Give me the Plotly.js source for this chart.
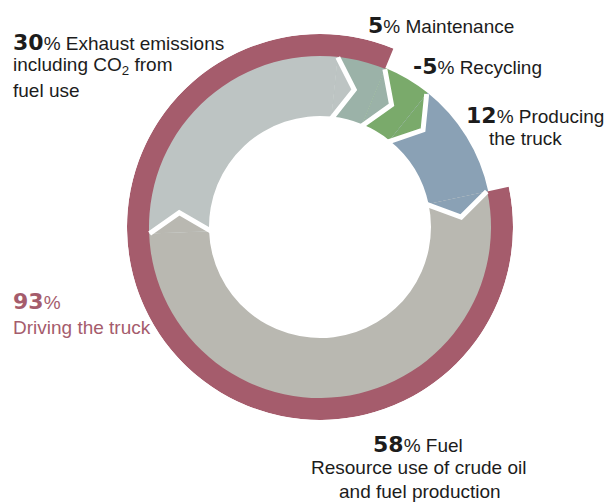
<!DOCTYPE html>
<html>
<head>
<meta charset="utf-8">
<script src="https://cdn.plot.ly/plotly-3.0.1.min.js"></script>
<style>
  html, body { margin: 0; padding: 0; background: #ffffff; }
  #chart { width: 607px; height: 504px; }
</style>
</head>
<body>
<div id="chart"></div>
<script>
// ---- Data ----
const categories = ['Maintenance', 'Recycling', 'Producing the truck', 'Fuel', 'Exhaust emissions'];
const shares = [5, -5, 12, 58, 30];             // % of life-cycle impact
const drivingShare = 93;                        // % Driving the truck

// ---- Styling ----
const sliceColors = ['#9bb2a8', '#7aaa6b', '#8aa1b5', '#b9b8b1', '#bdc4c3'];
const maroon = '#a55c6c';
const textColor = '#1c1c1c';
const W = 607, H = 504;
const cx = 320, cy = 227;
const innerR = 172, holeR = 111;          // radii in px (style)
const ringOuterR = 193, ringInnerR = 171;
const startAngle = 6;                      // degrees clockwise from 12 o'clock
const chevron = 8;                         // chevron tip offset, degrees

// ---- Angles derived from the data ----
const absVals = shares.map(Math.abs);
const total = absVals.reduce((a, b) => a + b, 0);
const spans = absVals.map(v => 360 * v / total);
const starts = [];
let acc = startAngle;
spans.forEach(sp => { starts.push(acc); acc += sp; });
const mids = starts.map((st, i) => st + spans[i] / 2);

const fuelIdx = categories.indexOf('Fuel');
const ringStart = starts[fuelIdx];
const ringSpan = 360 * drivingShare / total;

const traces = [];

// inner segments
traces.push({
  type: 'barpolar',
  theta: mids,
  width: spans,
  base: categories.map(() => holeR),
  r: categories.map(() => innerR - holeR),
  marker: { color: sliceColors, line: { width: 0 } },
  hoverinfo: 'skip',
  showlegend: false
});

// outer "Driving the truck" ring
traces.push({
  type: 'barpolar',
  theta: [ringStart + ringSpan / 2],
  width: [ringSpan],
  base: [ringInnerR],
  r: [ringOuterR - ringInnerR],
  marker: { color: maroon, line: { width: 0 } },
  hoverinfo: 'skip',
  showlegend: false
});

// chevron-shaped joins: the earlier slice pokes into the next one
const midR = (innerR + holeR) / 2;
const edgeR = Math.min(innerR, ringInnerR) - 0.5;
starts.forEach((th, i) => {
  const prev = (i - 1 + categories.length) % categories.length;
  traces.push({
    type: 'scatterpolar', mode: 'lines',
    r: [edgeR, midR, holeR, edgeR],
    theta: [th, th + chevron, th, th],
    fill: 'toself', fillcolor: sliceColors[prev],
    line: { width: 0, color: sliceColors[prev] },
    hoverinfo: 'skip', showlegend: false
  });
});
starts.forEach((th) => {
  traces.push({
    type: 'scatterpolar', mode: 'lines',
    r: [edgeR, midR, holeR - 2],
    theta: [th, th + chevron, th],
    line: { width: 5, color: '#ffffff' },
    hoverinfo: 'skip', showlegend: false
  });
});

// ---- Labels ----
const TXT = 19, NUM = 22;
function num(v) {
  return '<span style="font-family:DejaVu Sans;font-size:' + NUM + 'px;font-weight:bold">' + v + '</span>';
}
function ann(text, px, baseline, anchor, size, color) {
  return {
    xref: 'paper', yref: 'paper',
    x: px / W, y: 1 - (baseline - 0.35 * size) / H,
    xanchor: anchor, yanchor: 'middle',
    text: text, showarrow: false, align: anchor,
    font: { family: 'Liberation Sans, Arial, sans-serif', size: TXT, color: color || textColor }
  };
}

const s = {};
categories.forEach((c, i) => s[c] = shares[i]);

const annotations = [
  ann(num(s['Exhaust emissions']) + '% Exhaust emissions', 11, 50, 'left', NUM),
  ann('including CO<sub>2</sub> from', 11, 73, 'left', TXT),
  ann('fuel use', 11, 97, 'left', TXT),
  ann(num(s['Maintenance']) + '% Maintenance', 366, 33, 'left', NUM),
  ann(num(s['Recycling']) + '% Recycling', 411, 74, 'left', NUM),
  ann(num(s['Producing the truck']) + '% Producing', 464, 123, 'left', NUM),
  ann('the truck', 487, 145, 'left', TXT),
  ann(num(drivingShare) + '%', 11, 309, 'left', NUM, maroon),
  ann('Driving the truck', 11, 334, 'left', TXT, maroon),
  ann(num(s['Fuel']) + '% Fuel', 418, 452, 'center', NUM),
  ann('Resource use of crude oil', 418, 474, 'center', TXT),
  ann('and fuel production', 420, 498, 'center', TXT)
];

const layout = {
  width: W, height: H,
  margin: { l: 0, r: 0, t: 0, b: 0, pad: 0 },
  paper_bgcolor: '#ffffff',
  showlegend: false,
  polar: {
    domain: {
      x: [(cx - ringOuterR) / W, (cx + ringOuterR) / W],
      y: [(H - cy - ringOuterR) / H, (H - cy + ringOuterR) / H]
    },
    bgcolor: 'rgba(0,0,0,0)',
    radialaxis: { range: [0, ringOuterR], visible: false, showgrid: false, showline: false, showticklabels: false, ticks: '' },
    angularaxis: { rotation: 90, direction: 'clockwise', visible: false, showgrid: false, showline: false, showticklabels: false, ticks: '' }
  },
  annotations: annotations
};

Plotly.newPlot('chart', traces, layout, { staticPlot: true, displayModeBar: false });
</script>
</body>
</html>
